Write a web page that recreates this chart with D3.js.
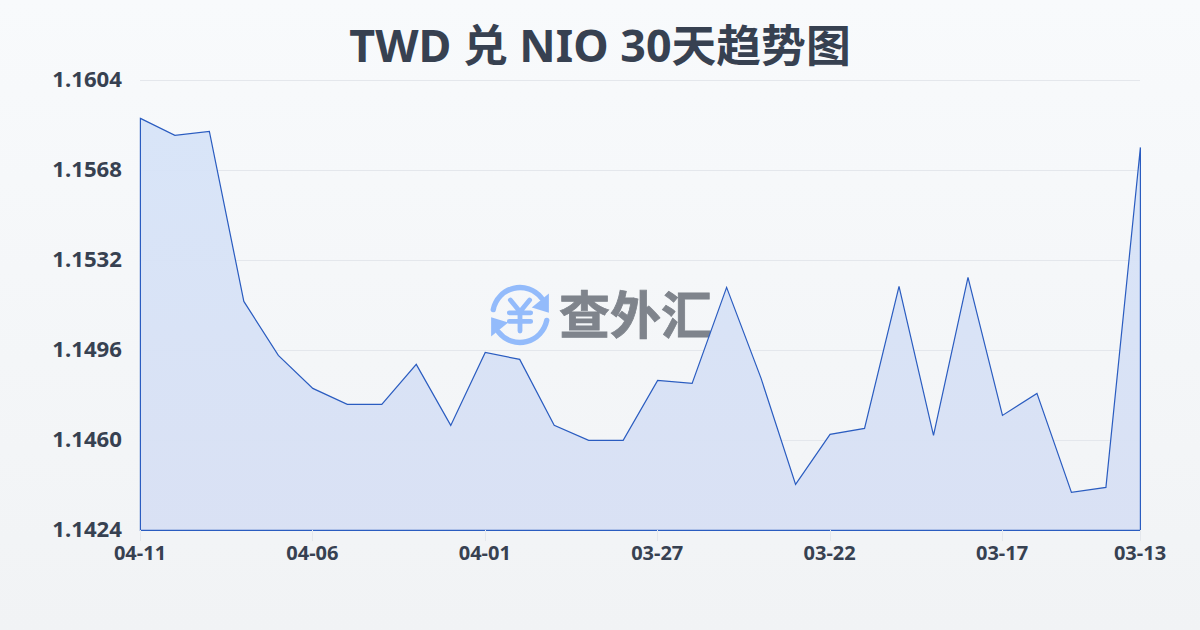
<!DOCTYPE html>
<html><head><meta charset="utf-8">
<script src="https://cdn.jsdelivr.net/npm/d3@7/dist/d3.min.js"></script>
<style>html,body{margin:0;padding:0;background:#f8fafc}svg{display:block}</style>
</head><body><div id="c"></div>
<script>
const titleText = "TWD 兑 NIO 30天趋势图";
const dates = ["04-11","04-10","04-09","04-08","04-07","04-06","04-05","04-04","04-03","04-02","04-01","03-31","03-30","03-29","03-28","03-27","03-26","03-25","03-24","03-23","03-22","03-21","03-20","03-19","03-18","03-17","03-16","03-15","03-14","03-13"];
const rates = [1.15888,1.1582,1.15836,1.15156,1.1494,1.14808,1.14744,1.14744,1.14904,1.1466,1.14952,1.14924,1.1466,1.146,1.146,1.1484,1.14828,1.15212,1.14848,1.14424,1.14624,1.14648,1.15216,1.1462,1.15252,1.147,1.14788,1.14392,1.14412,1.15772];
const yTicks = [1.1424,1.1460,1.1496,1.1532,1.1568,1.1604];
const xTickLabels = ["04-11","04-06","04-01","03-27","03-22","03-17","03-13"];
const watermark = "查外汇";

const W=1200,H=630,L=140,R=1140,T=80,B=530;
const font='"Noto Sans","Noto Sans CJK SC",sans-serif';
const svg=d3.select("#c").append("svg").attr("width",W).attr("height",H).attr("viewBox",[0,0,W,H]);
const defs=svg.append("defs");
const bg=defs.append("linearGradient").attr("id","bg").attr("x1",0).attr("y1",0).attr("x2",0).attr("y2",1);
bg.append("stop").attr("offset",0).attr("stop-color","#f8fafc");
bg.append("stop").attr("offset",1).attr("stop-color","#f1f3f5");
const ag=defs.append("linearGradient").attr("id","ag").attr("x1",0).attr("y1",0).attr("x2",0).attr("y2",1);
ag.append("stop").attr("offset",0).attr("stop-color","#d7e4f8");
ag.append("stop").attr("offset",1).attr("stop-color","#d8e0f4");
svg.append("rect").attr("width",W).attr("height",H).attr("fill","url(#bg)");

const x=d3.scalePoint().domain(dates).range([L,R]);
const y=d3.scaleLinear().domain([1.1424,1.1604]).range([B,T]);

svg.append("text").attr("x",600).attr("y",62).attr("text-anchor","middle")
  .attr("font-family",font).attr("font-weight",700).attr("font-size",44.8).attr("fill","#374151").text(titleText);

// grid
svg.append("g").selectAll("line").data(yTicks.slice(1)).join("line")
  .attr("x1",L).attr("x2",R).attr("y1",d=>y(d)+.5).attr("y2",d=>y(d)+.5)
  .attr("stroke","#e4e7ec").attr("stroke-width",1);

// watermark
const wm=svg.append("g");
const ic=wm.append("g").attr("transform","translate(520,315) scale(1.07)").attr("fill","none").attr("stroke","#93bbfb");
ic.append("path").attr("d","M-25,-5A25.5,25.5 0 0 1 20,-16").attr("stroke-width",5).attr("stroke-linecap","round");
ic.append("path").attr("d","M25,5A25.5,25.5 0 0 1 -20,16").attr("stroke-width",5).attr("stroke-linecap","round");
ic.append("path").attr("d","M27,-20L27,-2L11,-7Z").attr("fill","#93bbfb").attr("stroke","none");
ic.append("path").attr("d","M-27,20L-27,2L-11,7Z").attr("fill","#93bbfb").attr("stroke","none");
ic.append("path").attr("d","M-9,-14L0,-3L9,-14M-10,-2H10M-10,6H10M0,-3V15").attr("stroke-width",4.5).attr("stroke-linecap","round").attr("stroke-linejoin","round");
wm.append("text").attr("x",559).attr("y",334).attr("font-family",font).attr("font-weight",700)
  .attr("font-size",51).attr("fill","#7f848c").attr("stroke","#7f848c").attr("stroke-width",.8).text(watermark);

// area + line
const area=d3.area().x((d,i)=>x(dates[i])).y0(B).y1(d=>y(d));
svg.append("path").datum(rates).attr("transform","translate(0.4,0.4)").attr("d",area).attr("fill","url(#ag)").attr("fill-opacity",.95)
  .attr("stroke","#2a5cc0").attr("stroke-width",1.2).attr("stroke-linejoin","miter");

// y axis labels
svg.append("g").selectAll("text").data(yTicks).join("text")
  .attr("x",122).attr("y",d=>y(d)+7).attr("text-anchor","end")
  .attr("font-family",font).attr("font-weight",700).attr("font-size",22.2).attr("fill","#374151")
  .text(d=>d.toFixed(4));

// x axis
const xg=svg.append("g");
xg.selectAll("line").data(xTickLabels).join("line")
  .attr("x1",d=>Math.round(x(d))+.5).attr("x2",d=>Math.round(x(d))+.5).attr("y1",B).attr("y2",B+11)
  .attr("stroke","#e4e7ec");
xg.selectAll("text").data(xTickLabels).join("text")
  .attr("x",d=>x(d)).attr("y",560).attr("text-anchor","middle")
  .attr("font-family",font).attr("font-weight",700).attr("font-size",20).attr("fill","#374151").text(d=>d);
</script></body></html>
